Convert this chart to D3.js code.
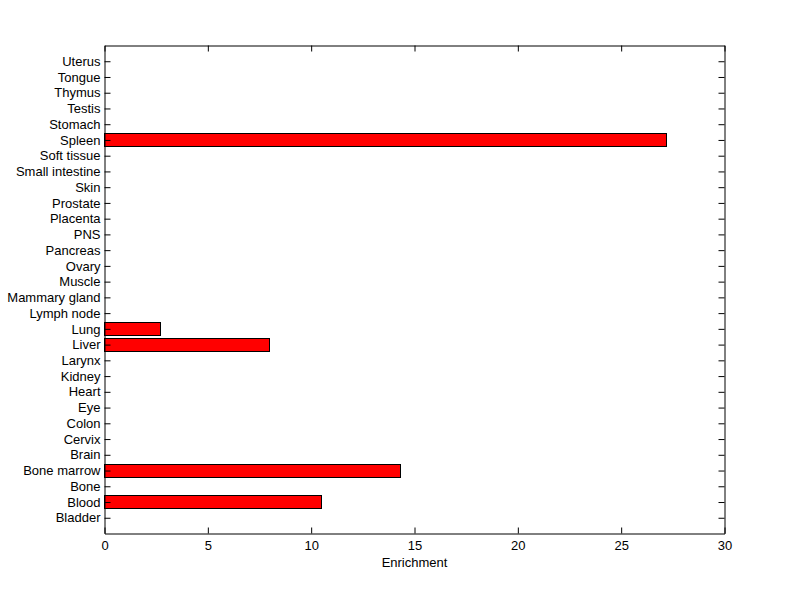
<!DOCTYPE html>
<html>
<head>
<meta charset="utf-8">
<script src="https://cdn.jsdelivr.net/npm/d3@7"></script>
<style>
  body { margin: 0; background: #fff; }
  text { font-family: "Liberation Sans", Arial, sans-serif; font-size: 13px; fill: #000; }
</style>
</head>
<body>
<div id="chart"></div>
<script>
// Data (bottom to top)
var tissues = ["Bladder", "Blood", "Bone", "Bone marrow", "Brain", "Cervix", "Colon", "Eye",
  "Heart", "Kidney", "Larynx", "Liver", "Lung", "Lymph node", "Mammary gland", "Muscle",
  "Ovary", "Pancreas", "PNS", "Placenta", "Prostate", "Skin", "Small intestine",
  "Soft tissue", "Spleen", "Stomach", "Testis", "Thymus", "Tongue", "Uterus"];
var enrichment = [0, 10.52, 0, 14.34, 0, 0, 0, 0,
  0, 0, 0, 8.0, 2.71, 0, 0, 0,
  0, 0, 0, 0, 0, 0, 0,
  0, 27.2, 0, 0, 0, 0, 0];
var xTicks = [0, 5, 10, 15, 20, 25, 30];

// Graph parameters
var W = 800, H = 599;
var margin = { top: 45, left: 104, right: 76, bottom: 66 };
var width = W - margin.left - margin.right;
var height = H - margin.top - margin.bottom;

var svg = d3.select("#chart").append("svg")
  .attr("width", W)
  .attr("height", H);

var g = svg.append("g")
  .attr("transform", "translate(" + (margin.left + 0.5) + "," + (margin.top + 0.5) + ")");

// Scales
var x = d3.scaleLinear().domain([0, 30]).range([0, width]);
var y = d3.scaleLinear().domain([0, tissues.length + 1]).range([height, 0]);
var step = height / (tissues.length + 1);
var barH = step * 0.8;

// Bars
g.selectAll(".bar")
  .data(tissues.map(function(t, i) { return { name: t, pos: i + 1, value: enrichment[i] }; })
    .filter(function(d) { return d.value > 0; }))
  .enter().append("rect")
  .attr("class", "bar")
  .attr("x", x(0))
  .attr("y", function(d) { return Math.round(y(d.pos) - barH / 2); })
  .attr("width", function(d) { return Math.round(x(d.value)); })
  .attr("height", Math.round(barH))
  .attr("fill", "#ff0000")
  .attr("stroke", "#000")
  .attr("stroke-width", 1);

// Axes
var yPos = tissues.map(function(t, i) { return i + 1; });

var xBottom = d3.axisBottom(x).tickValues(xTicks).tickFormat(d3.format("d"))
  .tickSizeInner(-6).tickSizeOuter(0).tickPadding(7);
var xTop = d3.axisTop(x).tickValues(xTicks).tickFormat("").tickSizeInner(-6).tickSizeOuter(0);
var yLeft = d3.axisLeft(y).tickValues(yPos).tickFormat(function(d) { return tissues[d - 1]; })
  .tickSizeInner(-6).tickSizeOuter(0).tickPadding(4);
var yRight = d3.axisRight(y).tickValues(yPos).tickFormat("").tickSizeInner(-6).tickSizeOuter(0);

function style(sel) {
  sel.attr("font-family", null).attr("font-size", null);
  sel.selectAll(".domain").attr("stroke", "#000");
  sel.selectAll(".tick line").attr("stroke", "#000");
}

g.append("g").attr("transform", "translate(0," + height + ")").call(xBottom).call(style);
g.append("g").call(xTop).call(style);
g.append("g").call(yLeft).call(style);
g.append("g").attr("transform", "translate(" + width + ",0)").call(yRight).call(style);

// Axis label
g.append("text")
  .attr("x", width / 2)
  .attr("y", height + 33)
  .attr("text-anchor", "middle")
  .text("Enrichment");
</script>
</body>
</html>
